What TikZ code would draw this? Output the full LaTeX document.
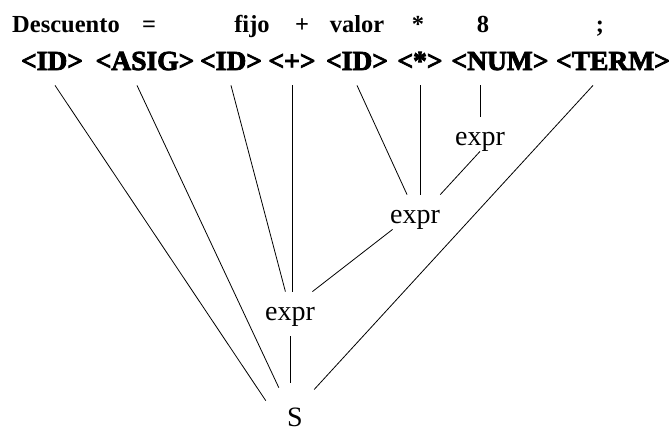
\documentclass[tikz,border=0pt]{standalone}
\usepackage{fontspec}
\setmainfont{Liberation Serif}
\newfontfamily\tokfont{Liberation Serif Bold}[FakeBold=3]

\begin{document}
\begin{tikzpicture}[x=1pt, y=-1pt, line width=0.8pt,
  lex/.style={font=\bfseries\fontsize{24.5}{28}\selectfont, anchor=base, inner sep=0pt},
  tok/.style={font=\tokfont\fontsize{27.5}{30}\selectfont, anchor=base, inner sep=0pt, text depth=15pt},
  nt/.style={font=\fontsize{28}{32}\selectfont, anchor=base, inner sep=0pt, text height=28pt, text depth=6pt},
  axiome/.style={circle, font=\fontsize{28}{32}\selectfont, anchor=base, inner sep=0pt, minimum size=66pt}]
  \useasboundingbox (0,0) rectangle (671,431);

  % La phrase
  \node[lex] (lDesc) at (66,32) {Descuento};
  \node[lex] (lAsig) at (149,32) {=};
  \node[lex] (lFijo) at (252,32) {fijo};
  \node[lex] (lMas) at (302,32) {+};
  \node[lex] (lValor) at (357,32) {valor};
  \node[lex] (lPor) at (418,32) {*};
  \node[lex] (lNum) at (483,32) {8};
  \node[lex] (lTerm) at (600,32) {;};

  % Les jetons
  \node[tok] (tID1) at (52,70) {<ID>};
  \node[tok] (tASIG) at (145,70) {<ASIG>};
  \node[tok] (tID2) at (231,70) {<ID>};
  \node[tok] (tMAS) at (292,70) {<+>};
  \node[tok] (tID3) at (357,70) {<ID>};
  \node[tok] (tPOR) at (420,70) {<*>};
  \node[tok] (tNUM) at (500,70) {<NUM>};
  \node[tok] (tTERM) at (613,70) {<TERM>};

  % L'arbre
  \node[nt] (e3) at (480,145) {expr};
  \node[nt] (e2) at (415,223) {expr};
  \node[nt] (e1) at (290,320) {expr};
  \node[axiome] (S) at (295,426) {S};

  % Les branches
  \draw ([xshift=3pt]tID1.south) -- (S.151);
  \draw ([xshift=-8pt]tASIG.south) -- (S.119);
  \draw (tID2.south) -- (e1);
  \draw (tMAS.south) -- (tMAS.south |- e1.north);
  \draw (tID3.south) -- (e2);
  \draw (tPOR.south) -- (tPOR.south |- e2.north);
  \draw (tNUM.south -| e3.north) -- (e3.north);
  \draw ([xshift=-20pt]tTERM.south) -- (S.55);
  \draw (e3.south) -- (e2.north east);
  \draw (e2) -- (e1);
  \draw[shorten <=10pt] (e1.south) -- (e1.south |- S.north);
\end{tikzpicture}
\end{document}
